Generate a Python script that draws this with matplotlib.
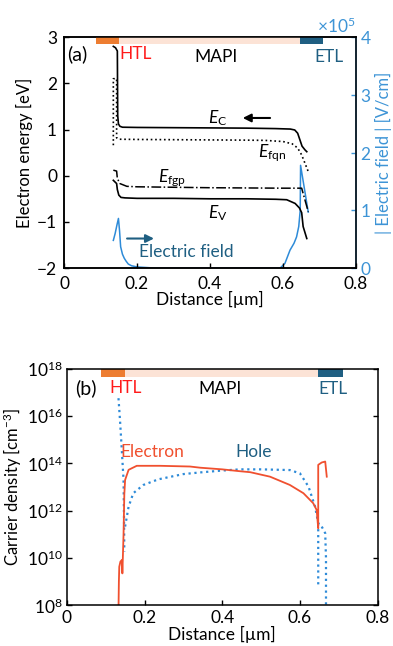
import numpy as np
import matplotlib.pyplot as plt
from matplotlib.ticker import ScalarFormatter, FuncFormatter

plt.rcParams['font.family'] = ['Lato', 'DejaVu Sans']
plt.rcParams['mathtext.fontset'] = 'custom'
plt.rcParams['mathtext.rm'] = 'Lato'
plt.rcParams['mathtext.it'] = 'Lato:italic'
plt.rcParams['font.size'] = 12.5
plt.rcParams['xtick.direction'] = 'in'
plt.rcParams['ytick.direction'] = 'in'
plt.rcParams['axes.linewidth'] = 1.1

# layer stack (µm)
layer_names = ['HTL', 'MAPI', 'ETL']
layer_edges = [0.088, 0.150, 0.647, 0.710]
layer_colors = ['#ED7D31', '#FCE3D6', '#1F5F82']
label_colors = ['#FF1A1A', 'black', '#1F5F82']

# (a) band diagram [eV]
ec_x = [0.135, 0.141, 0.146, 0.147, 0.149, 0.153, 0.16, 0.2, 0.3, 0.4, 0.5, 0.58, 0.62, 0.632, 0.64, 0.646, 0.652, 0.66, 0.665]
ec_y = [2.80, 2.77, 2.70, 1.30, 1.12, 1.07, 1.05, 1.045, 1.04, 1.035, 1.03, 1.02, 1.01, 0.99, 0.92, 0.78, 0.64, 0.56, 0.52]

efn_x = [0.135, 0.135, 0.144, 0.144, 0.15, 0.2, 0.3, 0.4, 0.5, 0.55, 0.6, 0.625, 0.64, 0.651, 0.66, 0.669]
efn_y = [0.66, 2.10, 2.10, 0.82, 0.79, 0.785, 0.78, 0.775, 0.77, 0.765, 0.74, 0.69, 0.60, 0.45, 0.27, 0.09]

efp_x = [0.135, 0.144, 0.146, 0.153, 0.172, 0.2, 0.3, 0.4, 0.5, 0.6, 0.647, 0.651, 0.669]
efp_y = [0.12, 0.10, -0.06, -0.17, -0.23, -0.24, -0.25, -0.26, -0.265, -0.27, -0.27, -0.27, -0.78]

ev_x = [0.135, 0.144, 0.146, 0.150, 0.156, 0.167, 0.2, 0.3, 0.4, 0.5, 0.58, 0.61, 0.633, 0.645, 0.651, 0.655, 0.665]
ev_y = [-0.10, -0.17, -0.30, -0.42, -0.47, -0.48, -0.49, -0.49, -0.50, -0.50, -0.51, -0.52, -0.60, -0.70, -0.80, -1.10, -1.36]

# |electric field| [1e5 V/cm]
fld_x = [0.135, 0.140, 0.145, 0.149, 0.152, 0.155, 0.160, 0.165, 0.170, 0.176, 0.185, 0.2, 0.25, 0.4, 0.55, 0.592,
         0.605, 0.619, 0.63, 0.637, 0.643, 0.647, 0.648, 0.669]
fld_y = [0.48, 0.60, 0.75, 0.86, 0.65, 0.37, 0.24, 0.17, 0.12, 0.07, 0.04, 0.02, 0.0, 0.0, 0.0, 0.0,
         0.08, 0.31, 0.43, 0.54, 0.72, 1.00, 1.78, 0.97]
fld_scale = 1e5

# (b) carrier densities, log10 [cm^-3]
hole_x = [0.133, 0.137, 0.141, 0.146, 0.147, 0.148, np.nan,
          0.150, 0.159, 0.171, 0.197, 0.236, 0.3, 0.343, 0.4, 0.446, 0.5, 0.574, 0.6, 0.622, 0.639, 0.647,
          0.656, 0.665, 0.667, 0.667, np.nan, 0.647, 0.647]
hole_y = [16.76, 15.8, 14.71, 13.3, 12.0, 10.27, np.nan,
          11.33, 12.17, 12.74, 13.09, 13.33, 13.55, 13.62, 13.7, 13.75, 13.75, 13.72, 13.58, 13.02, 12.17, 11.47,
          11.33, 11.05, 10.0, 7.9, np.nan, 11.47, 8.86]

elec_x = [0.133, 0.134, 0.135, 0.138, 0.142, 0.143, 0.146, 0.148, 0.150, 0.159, 0.18, 0.24, 0.317, 0.343, 0.4,
          0.446, 0.472, 0.523, 0.574, 0.609, 0.634, 0.643, 0.647, 0.647, 0.656, 0.665, 0.669]
elec_y = [7.8, 9.0, 9.63, 9.85, 9.92, 9.35, 11.0, 12.7, 13.3, 13.73, 13.9, 13.9, 13.87, 13.82, 13.75,
          13.67, 13.63, 13.44, 13.09, 12.74, 12.32, 12.03, 11.26, 13.94, 14.04, 14.08, 13.44]

fld_blue = '#2E8BD8'
axis_blue = '#3D94D6'
dark_blue = '#1F5F82'
red = '#F0502F'


def fmt_x(v, pos):
    return f'{v:g}'


def draw_layers(ax, y0, y1):
    for i in range(3):
        ax.bar(layer_edges[i], y1 - y0, width=layer_edges[i + 1] - layer_edges[i], bottom=y0,
               align='edge', color=layer_colors[i], linewidth=0, zorder=1)


fig = plt.figure(figsize=(3.93, 6.46), dpi=100)

# ---------- (a)
ax1 = fig.add_axes([0.163, 0.585, 0.743, 0.3575])
axr = ax1.twinx()
ax1.set_zorder(axr.get_zorder() + 1)
ax1.patch.set_visible(False)

draw_layers(ax1, 2.85, 3.0)
ax1.plot(ec_x, ec_y, '-', color='black', lw=1.2)
ax1.plot(efn_x, efn_y, ':', color='black', lw=1.2)
ax1.plot(efp_x, efp_y, '-.', color='black', lw=1.1)
ax1.plot(ev_x, ev_y, '-', color='black', lw=1.2)

axr.plot(fld_x, np.array(fld_y) * fld_scale, '-', color=fld_blue, lw=1.1)

ax1.set_xlim(0, 0.8)
ax1.set_ylim(-2, 3)
ax1.set_xticks([0, 0.2, 0.4, 0.6, 0.8])
ax1.xaxis.set_major_formatter(FuncFormatter(fmt_x))
ax1.set_yticks([-2, -1, 0, 1, 2, 3])
ax1.set_xlabel('Distance [µm]', labelpad=-1)
ax1.set_ylabel('Electron energy [eV]', fontsize=12, labelpad=3)
ax1.tick_params(axis='x', length=3.5, width=1, pad=6)
ax1.tick_params(axis='y', length=3.5, width=1, pad=5)

axr.set_ylim(0, 4e5)
axr.set_yticks([0, 1e5, 2e5, 3e5, 4e5])
sf = ScalarFormatter(useMathText=True)
sf.set_powerlimits((0, 0))
axr.yaxis.set_major_formatter(sf)
axr.tick_params(axis='y', colors=axis_blue, length=3.5, width=1, pad=3)
axr.yaxis.get_offset_text().set_color(axis_blue)
axr.spines['right'].set_color(axis_blue)
axr.set_ylabel('| Electric field | [V/cm]', color=axis_blue, fontsize=12, labelpad=2)

ax1.text(0.035, 2.63, '(a)', ha='center', va='center', fontsize=14)
ax1.text(0.195, 2.63, 'HTL', ha='center', va='center', color=label_colors[0])
ax1.text(0.416, 2.56, 'MAPI', ha='center', va='center', color=label_colors[1])
ax1.text(0.727, 2.56, 'ETL', ha='center', va='center', color=label_colors[2])

ax1.text(0.421, 1.24, r'$E_\mathrm{C}$', ha='center', va='center')
ax1.annotate('', xy=(0.482, 1.25), xytext=(0.572, 1.25),
             arrowprops=dict(arrowstyle='-|>', color='black', lw=1.5, mutation_scale=12))
ax1.text(0.571, 0.48, r'$E_\mathrm{fqn}$', ha='center', va='center')
ax1.text(0.295, -0.05, r'$E_\mathrm{fgp}$', ha='center', va='center')
ax1.text(0.422, -0.82, r'$E_\mathrm{V}$', ha='center', va='center')

ax1.annotate('', xy=(0.254, -1.36), xytext=(0.165, -1.36),
             arrowprops=dict(arrowstyle='-|>', color=dark_blue, lw=1.5, mutation_scale=12))
ax1.text(0.334, -1.66, 'Electric field', ha='center', va='center', color=dark_blue)

# ---------- (b)
ax2 = fig.add_axes([0.170, 0.063, 0.791, 0.366])
draw_layers(ax2, 10 ** 17.64, 1e18)
ax2.plot(hole_x, 10.0 ** np.array(hole_y), ':', color=fld_blue, lw=1.6)
ax2.plot(elec_x, 10.0 ** np.array(elec_y), '-', color=red, lw=1.3)

ax2.set_yscale('log')
ax2.set_xlim(0, 0.8)
ax2.set_ylim(1e8, 1e18)
ax2.set_xticks([0, 0.2, 0.4, 0.6, 0.8])
ax2.xaxis.set_major_formatter(FuncFormatter(fmt_x))
ax2.set_yticks([1e8, 1e10, 1e12, 1e14, 1e16, 1e18])
ax2.yaxis.set_major_formatter(FuncFormatter(lambda v, p: r'$\mathdefault{10^{%d}}$' % round(np.log10(v))))
ax2.minorticks_off()
ax2.tick_params(axis='x', length=3.5, width=1, pad=3.5)
ax2.tick_params(axis='y', length=3.5, width=1, pad=3, right=True)
ax2.set_xlabel('Distance [µm]', labelpad=0)
ax2.set_ylabel(r'Carrier density [cm$^{-3}$]', fontsize=12, labelpad=2)

ax2.text(0.05, 10 ** 17.2, '(b)', ha='center', va='center', fontsize=14)
ax2.text(0.15, 10 ** 17.2, 'HTL', ha='center', va='center', color=label_colors[0])
ax2.text(0.394, 10 ** 17.15, 'MAPI', ha='center', va='center', color=label_colors[1])
ax2.text(0.686, 10 ** 17.15, 'ETL', ha='center', va='center', color=label_colors[2])
ax2.text(0.221, 10 ** 14.5, 'Electron', ha='center', va='center', color=red)
ax2.text(0.481, 10 ** 14.5, 'Hole', ha='center', va='center', color=dark_blue)

fig.savefig('out.png', dpi=100)
